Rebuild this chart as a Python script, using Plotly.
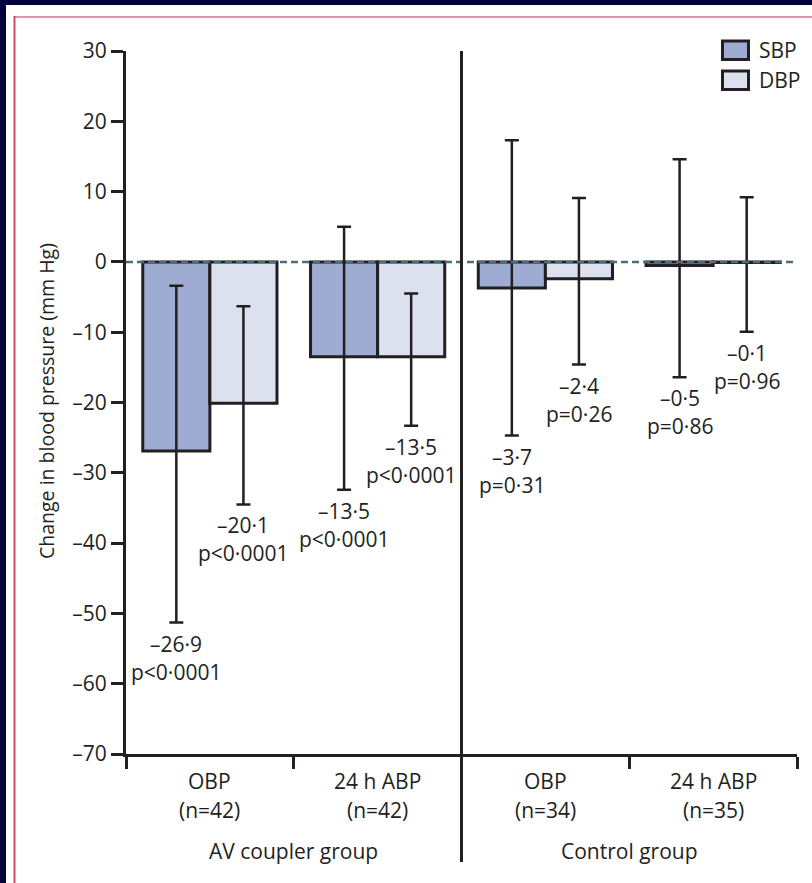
import plotly.graph_objects as go

# ---- data -------------------------------------------------------------
categories = ["OBP<br>(n=42)", "24 h ABP<br>(n=42)", "OBP<br>(n=34)", "24 h ABP<br>(n=35)"]
cat_line1 = ["OBP", "24 h ABP", "OBP", "24 h ABP"]
cat_line2 = ["(n=42)", "(n=42)", "(n=34)", "(n=35)"]
groups = ["AV coupler group", "Control group"]

sbp = [-26.9, -13.5, -3.7, -0.5]
dbp = [-20.1, -13.5, -2.4, -0.1]
sbp_err_plus = [23.5, 18.5, 21.0, 15.1]
sbp_err_minus = [24.4, 18.9, 21.0, 15.9]
dbp_err_plus = [13.8, 9.0, 11.5, 9.3]
dbp_err_minus = [14.4, 9.8, 12.2, 9.85]
sbp_p = ["p&lt;0·0001", "p&lt;0·0001", "p=0·31", "p=0·86"]
dbp_p = ["p&lt;0·0001", "p&lt;0·0001", "p=0·26", "p=0·96"]

y_ticks = [30, 20, 10, 0, -10, -20, -30, -40, -50, -60, -70]

# ---- styling -----------------------------------------------------------
W, H = 812, 883
ML, MR, MT, MB = 126, 15, 51, 129
PW, PH = W - ML - MR, H - MT - MB
INK = "#231f20"
SBP_FILL = "#9eacd4"
DBP_FILL = "#dce1f0"
FONT = "Open Sans"
FS = 21


def fx(px):
    return (px - ML) / PW


def fy(py):
    return (H - MB - py) / PH


def num(v):
    s = f"{abs(v):.1f}".replace(".", "·")
    return ("–" if v < 0 else "") + s


def tick_text(v):
    return ("–" if v < 0 else "") + str(abs(v))


def tfont(size=FS):
    return dict(family=FONT, size=size, color=INK)


fig = go.Figure()
fig.add_trace(go.Bar(
    x=categories, y=sbp, name="SBP",
    marker=dict(color=SBP_FILL, line=dict(color=INK, width=3)),
    error_y=dict(type="data", symmetric=False, array=sbp_err_plus,
                 arrayminus=sbp_err_minus, color=INK, thickness=2.5, width=7),
))
fig.add_trace(go.Bar(
    x=categories, y=dbp, name="DBP",
    marker=dict(color=DBP_FILL, line=dict(color=INK, width=3)),
    error_y=dict(type="data", symmetric=False, array=dbp_err_plus,
                 arrayminus=dbp_err_minus, color=INK, thickness=2.5, width=7),
))

annotations = []
half = 0.2  # bar centre offset within a category (in category units)
for i in range(len(categories)):
    for off, val, lo, ptxt in ((-half, sbp[i], sbp[i] - sbp_err_minus[i], sbp_p[i]),
                               (half, dbp[i], dbp[i] - dbp_err_minus[i], dbp_p[i])):
        annotations.append(dict(x=i + off, y=lo, xref="x", yref="y", text=num(val),
                                showarrow=False, yanchor="middle", yshift=-21,
                                font=tfont()))
        annotations.append(dict(x=i + off, y=lo, xref="x", yref="y", text=ptxt,
                                showarrow=False, yanchor="middle", yshift=-49,
                                font=tfont()))
    annotations.append(dict(x=i, y=fy(781), xref="x", yref="paper", text=cat_line1[i],
                            showarrow=False, yanchor="middle", font=tfont()))
    annotations.append(dict(x=i, y=fy(810), xref="x", yref="paper", text=cat_line2[i],
                            showarrow=False, yanchor="middle", font=tfont()))

for gi, g in enumerate(groups):
    annotations.append(dict(x=0.5 + 2 * gi, y=fy(851), xref="x", yref="paper", text=g,
                            showarrow=False, yanchor="middle", font=tfont()))

annotations.append(dict(x=fx(46), y=fy(401), xref="paper", yref="paper",
                        text="Change in blood pressure (mm Hg)", textangle=-90,
                        showarrow=False, xanchor="center", yanchor="middle",
                        font=tfont(19.5)))

# legend
for k, lab in enumerate(("SBP", "DBP")):
    yc = 50.5 + 30 * k
    annotations.append(dict(x=fx(757), y=fy(yc), xref="paper", yref="paper", text=lab,
                            showarrow=False, xanchor="left", yanchor="middle",
                            font=tfont()))

shapes = [
    # page frame
    dict(type="rect", xref="paper", yref="paper", x0=fx(0), x1=fx(6), y0=fy(H), y1=fy(0),
         fillcolor="#00003e", line=dict(width=0), layer="below"),
    dict(type="rect", xref="paper", yref="paper", x0=fx(0), x1=fx(W), y0=fy(5), y1=fy(0),
         fillcolor="#00003e", line=dict(width=0), layer="below"),
    dict(type="line", xref="paper", yref="paper", x0=fx(14), x1=fx(W), y0=fy(17), y1=fy(17),
         line=dict(color="#de95a6", width=2)),
    dict(type="line", xref="paper", yref="paper", x0=fx(14.5), x1=fx(14.5), y0=fy(16), y1=fy(H),
         line=dict(color="#cf4870", width=2)),
    # zero reference
    dict(type="line", xref="paper", yref="y", x0=0, x1=1, y0=0, y1=0,
         line=dict(color="#4a6f7b", width=2.5, dash="7px,4px"), layer="above"),
    # group divider
    dict(type="line", xref="x", yref="paper", x0=1.5, x1=1.5, y0=1, y1=fy(862),
         line=dict(color=INK, width=3)),
]
for k, col in enumerate((SBP_FILL, DBP_FILL)):
    y0 = 41 + 30 * k
    shapes.append(dict(type="rect", xref="paper", yref="paper",
                       x0=fx(722.5), x1=fx(748.5), y0=fy(y0 + 18.5), y1=fy(y0),
                       fillcolor=col, line=dict(color=INK, width=3)))

fig.update_layout(
    width=W, height=H,
    margin=dict(l=ML, r=MR, t=MT, b=MB, autoexpand=False),
    paper_bgcolor="white", plot_bgcolor="white",
    barmode="group", bargap=0.2, bargroupgap=0,
    showlegend=False,
    font=dict(family=FONT, size=FS, color=INK),
    annotations=annotations, shapes=shapes,
    xaxis=dict(type="category", range=[-0.5, 3.5], showline=True, linecolor=INK,
               linewidth=3, ticks="outside", tickson="boundaries", ticklen=12,
               tickwidth=3, tickcolor=INK, showticklabels=False, showgrid=False,
               zeroline=False, fixedrange=True),
    yaxis=dict(range=[-70, 30], tickvals=y_ticks, ticktext=[tick_text(v) for v in y_ticks],
               showline=True, linecolor=INK, linewidth=3, ticks="outside", ticklen=12,
               tickwidth=2.5, tickcolor=INK, showgrid=False, zeroline=False,
               tickfont=tfont(), fixedrange=True),
)

fig.write_html("out.html")
